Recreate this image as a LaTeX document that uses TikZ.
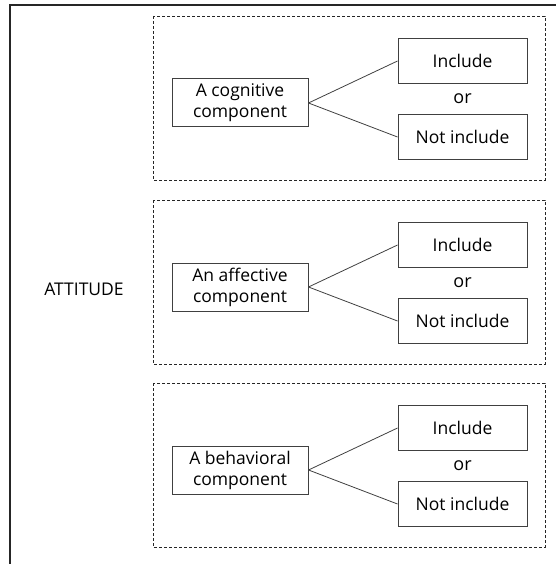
\documentclass[tikz,border=0pt]{standalone}
\usepackage{fontspec}
\setmainfont{Open Sans}
\begin{document}
\begin{tikzpicture}[x=1pt,y=-1pt,
  groupbox/.style={draw=black!85, line width=0.9pt, dash pattern=on 3pt off 2pt},
  compbox/.style={draw=black!75, line width=1pt, minimum width=136pt, minimum height=48pt, align=center, inner sep=0pt, font=\fontsize{17.5}{21}\selectfont},
  optbox/.style={draw=black!75, line width=1pt, minimum width=129pt, minimum height=45pt, inner sep=0pt, font=\fontsize{17.5}{21}\selectfont},
  ortext/.style={font=\fontsize{18}{21}\selectfont},
  link/.style={draw=black!75, line width=0.8pt}]
\useasboundingbox (0,0) rectangle (556,564);
\draw[black!85, line width=1.5pt] (10,564) -- (10,5) -- (556,5);
\node[font=\fontsize{17.5}{21}\selectfont] (att) at (84,289) {ATTITUDE};
\foreach \i/\dy/\txt in {1/0/{A cognitive\\component}, 2/184/{An affective\\component}, 3/367/{A behavioral\\component}} {
  \draw[groupbox] (153,16+\dy) rectangle (545,180+\dy);
  \node[compbox] (c\i) at (240,103+\dy) {\txt};
  \node[optbox] (inc\i) at (462.5,61+\dy) {Include};
  \node[optbox] (not\i) at (462.5,137+\dy) {Not include};
  \node[ortext] (or\i) at (462.5,99+\dy) {or};
  \draw[link] (c\i.east) -- (inc\i.west);
  \draw[link] (c\i.east) -- (not\i.west);
}
\end{tikzpicture}
\end{document}
